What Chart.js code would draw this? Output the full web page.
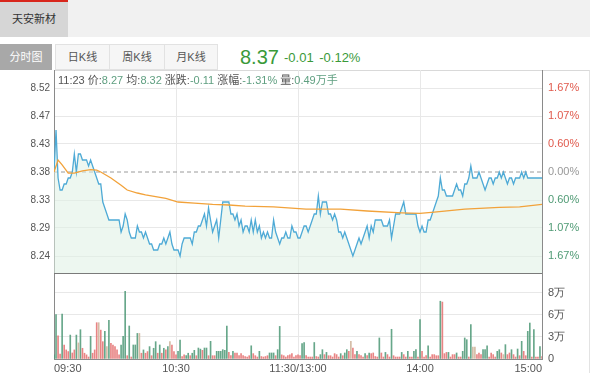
<!DOCTYPE html>
<html><head><meta charset="utf-8">
<script src="https://cdn.jsdelivr.net/npm/chart.js@4/dist/chart.umd.min.js"></script>
<style>
html,body{margin:0;padding:0;background:#fff;width:600px;height:386px;overflow:hidden;font-family:"Liberation Sans","Noto Sans CJK SC",sans-serif;}
.abs{position:absolute;}
#topbar{left:0;top:0;width:590px;height:37px;background:#f1f1f1;}
#stock{left:0;top:0;width:68px;height:35px;border-top:2px solid #d8261c;background:#d6d6d6;color:#333;font-size:11px;line-height:35px;text-align:center;}
.tab{top:44px;height:26px;box-sizing:border-box;font-size:11px;line-height:24px;text-align:center;color:#555;background:#f6f6f6;border:1px solid #e2e2e2;border-left:none;}
#t0{left:0;width:52px;background:#a8a8a8;color:#fff;border:none;line-height:26px;}
#t1{left:55px;width:55px;border-left:1px solid #e2e2e2;}
#t2{left:110px;width:55px;}
#t3{left:165px;width:53px;}
#last{left:240px;top:44px;font-size:20px;color:#3a9a3a;line-height:26px;}
#chg{left:284px;top:47px;font-size:13px;color:#3a9a3a;line-height:22px;word-spacing:2px;}
#frame{left:54px;top:70px;width:536px;height:303px;box-sizing:border-box;border-top:1px solid #d9d9d9;border-right:1px solid #e3e3e3;}
#sep{left:54px;top:273px;width:488px;height:1px;background:#7a7a7a;z-index:4;}
#info{left:58px;top:73px;font-size:11px;color:#555;line-height:14px;z-index:5;white-space:nowrap;}
#info b{font-weight:normal;color:#5f9f80;}
canvas{position:absolute;left:0;}
#pc{top:70px;}
#vc{top:274px;}
</style></head>
<body>
<div id="topbar" class="abs"></div>
<div id="stock" class="abs">天安新材</div>
<div id="t0" class="abs tab">分时图</div>
<div id="t1" class="abs tab">日K线</div>
<div id="t2" class="abs tab">周K线</div>
<div id="t3" class="abs tab">月K线</div>
<div id="last" class="abs">8.37</div>
<div id="chg" class="abs">-0.01 -0.12%</div>
<div id="frame" class="abs"></div>
<canvas id="pc" width="600" height="204"></canvas>
<canvas id="vc" width="600" height="112"></canvas>
<div id="sep" class="abs"></div>
<div id="info" class="abs">11:23 价:<b>8.27</b> 均:<b>8.32</b> 涨跌:<b>-0.11</b> 涨幅:<b>-1.31%</b> 量:<b>0.49万手</b></div>
<script>
// ---- data ----
const xTickMinutes = [0, 60, 120, 180, 240];
const xTickLabels = ['09:30', '10:30', '11:30/13:00', '14:00', '15:00'];
const prevClose = 8.38;
const priceTickValues = [8.24, 8.2867, 8.3333, 8.38, 8.4267, 8.4733, 8.52];
const priceTickLabels = ['8.24', '8.29', '8.33', '8.38', '8.43', '8.47', '8.52'];
const pctTickLabels = ['1.67%', '1.07%', '0.60%', '0.00%', '0.60%', '1.07%', '1.67%'];
const volTickValues = [0, 2.667, 5.333, 8];
const volTickLabels = ['0', '3万', '6万', '8万'];

const price = [
8.38,8.45,8.37,8.35,8.35,8.36,8.36,8.37,8.37,8.38,
8.41,8.38,8.41,8.41,8.40,8.40,8.40,8.39,8.40,8.39,
8.38,8.37,8.36,8.36,8.33,8.32,8.31,8.30,8.30,8.30,
8.30,8.30,8.30,8.28,8.29,8.31,8.30,8.28,8.27,8.27,
8.27,8.29,8.28,8.28,8.27,8.28,8.27,8.26,8.26,8.25,
8.25,8.25,8.26,8.26,8.27,8.26,8.27,8.28,8.26,8.25,
8.25,8.25,8.24,8.26,8.27,8.27,8.27,8.27,8.26,8.28,
8.28,8.29,8.29,8.30,8.31,8.29,8.32,8.30,8.28,8.29,
8.30,8.27,8.30,8.33,8.33,8.33,8.33,8.31,8.31,8.30,
8.31,8.29,8.30,8.28,8.29,8.29,8.28,8.30,8.28,8.30,
8.28,8.29,8.27,8.28,8.27,8.28,8.27,8.27,8.30,8.28,
8.27,8.26,8.27,8.27,8.28,8.27,8.27,8.29,8.28,8.28,
8.27,8.27,8.28,8.29,8.29,8.28,8.29,8.30,8.31,8.31,
8.34,8.31,8.33,8.33,8.33,8.31,8.31,8.30,8.31,8.30,
8.28,8.28,8.27,8.28,8.27,8.26,8.25,8.24,8.25,8.26,
8.27,8.26,8.27,8.28,8.29,8.27,8.29,8.28,8.30,8.30,
8.30,8.30,8.29,8.29,8.29,8.30,8.27,8.29,8.31,8.31,
8.31,8.32,8.33,8.31,8.31,8.31,8.31,8.31,8.31,8.29,
8.28,8.29,8.28,8.28,8.30,8.30,8.31,8.32,8.33,8.34,
8.37,8.35,8.35,8.34,8.34,8.34,8.34,8.35,8.36,8.35,
8.35,8.34,8.36,8.36,8.37,8.39,8.37,8.37,8.37,8.38,
8.37,8.36,8.35,8.36,8.37,8.37,8.36,8.37,8.37,8.38,
8.37,8.38,8.37,8.36,8.37,8.37,8.36,8.37,8.37,8.37,
8.38,8.37,8.38,8.37,8.37,8.37,8.37,8.37,8.37,8.37,
8.37];

const avgMinute = [0,2,4,7,10,14,18,21,23,28,33,36,41,45,55,61,69,78,86,94,108,124,141,154,171,180,187,202,219,229,240];
const avgValue = [8.380,8.400,8.392,8.378,8.378,8.382,8.384,8.383,8.380,8.370,8.358,8.350,8.345,8.342,8.336,8.330,8.328,8.326,8.325,8.323,8.322,8.318,8.318,8.315,8.312,8.311,8.313,8.318,8.321,8.322,8.326];

// volume in 万手 per minute
const volume = [
0.5,5.37,2.8,0.6,5.45,1.7,1.1,0.9,2.9,0.73,
1.1,2.9,1.95,3.55,1.3,0.7,0.5,0.24,2.75,0.7,
1.1,4.4,4.4,3.5,2.1,3.35,1.5,4.7,1.9,1.7,
1.5,1.1,0.5,1.7,2.75,8.2,0.4,4.0,0.24,1.7,
1.7,3.1,3.1,0.7,1.1,0.7,0.9,1.5,0.4,1.3,
2.1,0.7,1.7,0.7,1.3,1.1,1.5,2.1,1.7,0.9,
0.5,0.93,2.3,0.3,0.5,0.4,0.7,0.4,0.7,1.05,
0.4,1.33,1.2,1.05,1.33,1.33,0.4,2.14,0.4,0.4,
0.93,0.93,0.93,1.13,1.05,4.0,0.8,0.4,0.93,0.73,
0.73,0.4,0.65,0.4,0.3,0.24,0.4,1.6,0.65,0.4,
0.24,0.93,0.3,0.24,0.3,0.4,0.73,0.73,0.73,0.4,
1.13,3.95,0.5,0.4,0.24,0.4,0.5,0.65,0.24,0.4,
0.5,0.4,1.86,2.0,0.4,0.24,0.24,0.24,2.0,0.3,
0.24,0.53,1.13,0.53,0.8,0.4,0.4,0.24,0.65,0.53,
0.24,0.65,0.4,0.73,1.13,0.93,2.14,1.33,0.53,0.93,
0.53,0.4,0.24,0.65,0.4,0.73,0.65,0.73,0.3,0.24,
2.55,0.73,0.24,0.8,0.53,0.24,3.6,0.4,0.24,0.24,
0.24,0.8,0.53,0.24,0.93,0.24,0.24,0.93,1.13,0.24,
4.77,0.93,0.24,0.4,1.6,0.24,0.53,0.53,0.4,0.4,
7.0,6.9,0.65,0.8,0.8,0.24,0.53,0.53,0.73,0.24,
0.24,0.93,2.55,2.34,0.24,4.16,1.45,1.45,0.53,0.73,
0.53,1.13,1.13,1.6,0.24,0.73,0.53,0.24,0.93,1.13,
0.73,0.53,1.74,0.53,0.73,1.13,0.53,0.24,1.21,0.4,
2.14,0.93,0.4,3.35,4.36,0.24,3.56,0.24,0.24,1.5,
0.3];
// tick direction of each minute: 1 up, -1 down, 0 flat
const volDir = [
-1,-1,1,1,-1,1,1,1,-1,1,
1,-1,0,-1,1,1,1,1,-1,1,
1,1,0,1,1,-1,0,-1,1,1,
1,1,1,-1,-1,-1,1,-1,1,-1,
-1,-1,0,1,-1,1,1,-1,1,-1,
-1,1,-1,1,-1,1,-1,0,1,1,
1,-1,-1,1,1,-1,-1,1,-1,-1,
1,-1,-1,1,-1,-1,1,-1,1,1,
-1,-1,-1,-1,-1,-1,1,1,-1,1,
1,1,1,1,1,1,1,-1,1,1,
1,-1,1,1,1,1,-1,-1,-1,1,
-1,-1,1,1,1,1,1,1,1,1,
1,1,-1,-1,1,1,1,1,-1,1,
1,-1,-1,1,-1,1,1,1,1,1,
1,-1,1,-1,-1,1,0,1,1,-1,
1,1,1,-1,1,-1,1,1,1,1,
-1,1,1,-1,1,1,-1,1,1,1,
1,-1,1,1,-1,1,1,-1,-1,1,
-1,1,1,1,-1,1,1,1,1,1,
-1,1,1,1,-1,1,1,1,-1,1,
1,-1,-1,-1,1,-1,0,0,1,1,
1,-1,-1,-1,1,1,1,1,-1,-1,
1,0,-1,1,1,-1,1,1,-1,1,
-1,1,1,-1,-1,1,-1,1,1,-1,
1];

// ---- styles ----
const FONT = 'Liberation Sans';
const GRID = '#e8e8e8';
const AXIS = '#8a8a8a';
const RED = '#e0594c', GREEN = '#4f9a74', GRAYTXT = '#999';
const BAR_UP = 'rgba(228,110,110,0.85)', BAR_DN = 'rgba(76,152,118,0.85)', BAR_FLAT = '#d4bca6';

const priceXY = price.map((v, i) => ({x: i, y: v}));
const avgXY = avgMinute.map((m, i) => ({x: m, y: avgValue[i]}));
const prevXY = [{x: xTickMinutes[0], y: prevClose}, {x: xTickMinutes[xTickMinutes.length - 1], y: prevClose}];
const pMin = 8.21, pMax = 8.55;

const xGridColor = c => (c.tick && (c.tick.value === xTickMinutes[0] || c.tick.value === xTickMinutes[xTickMinutes.length - 1])) ? 'rgba(0,0,0,0)' : GRID;
const noPad = s => { s.paddingTop = 0; s.paddingBottom = 0; s.paddingLeft = 0; s.paddingRight = 0; };

new Chart(document.getElementById('pc'), {
  type: 'line',
  data: {datasets: [
    {data: priceXY, borderColor: '#4eaad6', borderWidth: 1.3, pointRadius: 0, tension: 0, fill: 'start', backgroundColor: 'rgba(222,240,228,0.55)', order: 1},
    {data: avgXY, borderColor: '#f2a23a', borderWidth: 1.3, pointRadius: 0, tension: 0, fill: false, order: 0},
    {data: prevXY, borderColor: '#9a9a9a', borderWidth: 1, borderDash: [4, 3], pointRadius: 0, fill: false, order: 2}
  ]},
  options: {
    responsive: false, animation: false, devicePixelRatio: 1,
    layout: {padding: 0},
    plugins: {legend: {display: false}, tooltip: {enabled: false}},
    scales: {
      x: {type: 'linear', min: 0, max: 240,
        afterBuildTicks: s => { s.ticks = xTickMinutes.map(v => ({value: v})); },
        afterFit: s => { s.height = 0; noPad(s); },
        ticks: {display: false},
        grid: {color: xGridColor, drawTicks: false},
        border: {display: false}},
      y: {position: 'left', min: pMin, max: pMax,
        afterBuildTicks: s => { s.ticks = priceTickValues.map(v => ({value: v})); },
        afterFit: s => { s.width = 54; noPad(s); },
        ticks: {callback: (v, i) => priceTickLabels[i], color: '#555', font: {family: FONT, size: 10}, padding: 4},
        grid: {color: c => (c.tick && Math.abs(c.tick.value - prevClose) < 1e-6) ? 'rgba(0,0,0,0)' : GRID, drawTicks: false},
        border: {display: true, color: AXIS}},
      y2: {position: 'right', min: pMin, max: pMax,
        afterBuildTicks: s => { s.ticks = priceTickValues.map(v => ({value: v})); },
        afterFit: s => { s.width = 58; noPad(s); },
        ticks: {callback: (v, i) => pctTickLabels[i], color: c => c.index < 3 ? GREEN : (c.index === 3 ? GRAYTXT : RED), font: {family: FONT, size: 11}, padding: 6},
        grid: {display: false, drawTicks: false},
        border: {display: true, color: AXIS}}
    }
  }
});

const volXY = volume.map((v, i) => ({x: i, y: v}));
const volColors = volDir.map(d => d > 0 ? BAR_UP : (d < 0 ? BAR_DN : BAR_FLAT));
const vMax = 10.3;

new Chart(document.getElementById('vc'), {
  type: 'bar',
  data: {datasets: [{data: volXY, backgroundColor: volColors, barThickness: 1, borderWidth: 0, yAxisID: 'y'}]},
  options: {
    responsive: false, animation: false, devicePixelRatio: 1,
    layout: {padding: 0},
    plugins: {legend: {display: false}, tooltip: {enabled: false}},
    scales: {
      x: {type: 'linear', min: 0, max: 240, offset: false,
        afterBuildTicks: s => { s.ticks = xTickMinutes.map(v => ({value: v})); },
        afterFit: s => { s.height = 27; noPad(s); },
        ticks: {callback: (v, i) => xTickLabels[i], align: 'inner', maxRotation: 0, color: '#555', font: {family: FONT, size: 11}, padding: 3},
        grid: {color: xGridColor, drawTicks: false, offset: false},
        border: {display: true, color: AXIS}},
      y: {position: 'left', min: 0, max: vMax,
        afterBuildTicks: s => { s.ticks = volTickValues.map(v => ({value: v})); },
        afterFit: s => { s.width = 54; noPad(s); },
        ticks: {display: false},
        grid: {color: c => (c.tick && c.tick.value === 0) ? 'rgba(0,0,0,0)' : GRID, drawTicks: false},
        border: {display: true, color: AXIS}},
      y2: {position: 'right', min: 0, max: vMax,
        afterBuildTicks: s => { s.ticks = volTickValues.map(v => ({value: v})); },
        afterFit: s => { s.width = 58; noPad(s); },
        ticks: {callback: (v, i) => volTickLabels[i], color: '#555', font: {family: FONT, size: 11}, padding: 6},
        grid: {display: false, drawTicks: false},
        border: {display: true, color: AXIS}}
    }
  }
});
</script>
</body></html>
